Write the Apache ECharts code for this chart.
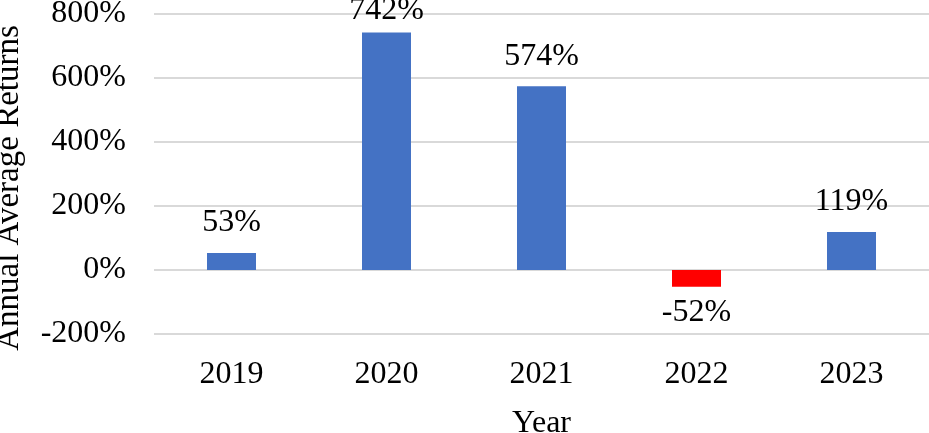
<!DOCTYPE html>
<html>
<head>
<meta charset="utf-8">
<script src="https://cdn.jsdelivr.net/npm/echarts@6/dist/echarts.min.js"></script>
<style>html,body{margin:0;padding:0;background:#fff;}#c{width:929px;height:433px;}</style>
</head>
<body>
<div id="c"></div>
<script>
const categories = ['2019', '2020', '2021', '2022', '2023'];
const returns = [53, 742, 574, -52, 119];
const yTicks = { min: -200, max: 800, interval: 200 };
const xTitle = 'Year';
const yTitle = 'Annual Average Returns';

const font = '"Liberation Serif", "Times New Roman", serif';
const fs = 32;
const chart = echarts.init(document.getElementById('c'));
chart.setOption({
  animation: false,
  grid: { left: 154, right: 0, top: 14, bottom: 99, outerBoundsMode: 'none', containLabel: false },
  xAxis: {
    type: 'category',
    data: categories,
    name: xTitle,
    nameLocation: 'middle',
    nameGap: 74,
    nameTextStyle: { fontFamily: font, fontSize: fs, color: '#000' },
    axisLine: { show: false },
    axisTick: { show: false },
    axisLabel: { fontFamily: font, fontSize: fs, color: '#000', margin: 25 }
  },
  yAxis: {
    type: 'value',
    min: yTicks.min, max: yTicks.max, interval: yTicks.interval,
    name: yTitle,
    nameLocation: 'middle',
    nameGap: 128,
    nameTextStyle: { fontFamily: font, fontSize: 33, color: '#000', padding: [0, 28, 0, 0] },
    axisLine: { show: false },
    axisTick: { show: false },
    axisLabel: { fontFamily: font, fontSize: fs, color: '#000', margin: 28, formatter: v => v + '%' },
    splitLine: { lineStyle: { color: '#d9d9d9', width: 2 } }
  },
  series: [{
    type: 'bar',
    barWidth: 49,
    data: returns.map((v, i) => ({
      value: v,
      itemStyle: { color: v < 0 ? '#ff0000' : '#4472c4' },
      label: {
        show: true,
        position: v < 0 ? 'bottom' : 'top',
        distance: v < 0 ? 10 : (i === 1 ? 6 : 14),
        formatter: v + '%',
        fontFamily: font, fontSize: fs, color: '#000'
      }
    }))
  }]
});
</script>
</body>
</html>
